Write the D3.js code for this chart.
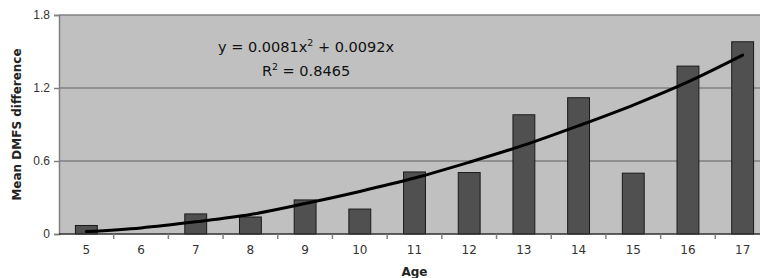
<!DOCTYPE html>
<html>
<head>
<meta charset="utf-8">
<script src="https://cdn.jsdelivr.net/npm/d3@7"></script>
<style>
  body { margin: 0; background: #fff; }
  svg { display: block; font-family: "DejaVu Sans", Verdana, sans-serif; }
</style>
</head>
<body>
<svg id="chart" width="760" height="278"></svg>
<script>
// chart data
const ages = ['5', '6', '7', '8', '9', '10', '11', '12', '13', '14', '15', '16', '17'];
const meanDiff = [0.07, 0, 0.165, 0.14, 0.28, 0.205, 0.51, 0.505, 0.98, 1.12, 0.5, 1.38, 1.58];
const trendValues = [0.02, 0.05, 0.10, 0.16, 0.25, 0.35, 0.46, 0.59, 0.73, 0.89, 1.06, 1.25, 1.47];
const yTicks = [0, 0.6, 1.2, 1.8];
const yTickLabels = ['0', '0.6', '1.2', '1.8'];

const dim = { left: 59, right: 770, top: 15, bottom: 234 };

const svg = d3.select('#chart');

const x = d3.scaleBand()
  .domain(ages)
  .range([dim.left, dim.right])
  .paddingInner(0.6)
  .paddingOuter(0.3);

const y = d3.scaleLinear()
  .domain([0, 1.8])
  .range([dim.bottom, dim.top]);

/// plot background
svg.append('rect')
  .attr('x', dim.left)
  .attr('y', dim.top)
  .attr('width', dim.right - dim.left)
  .attr('height', dim.bottom - dim.top)
  .attr('fill', '#c0c0c0');

/// gridlines
svg.append('g')
  .selectAll('line')
  .data(yTicks.filter((d) => d > 0))
  .enter().append('line')
  .attr('x1', dim.left)
  .attr('x2', dim.right)
  .attr('y1', (d) => y(d))
  .attr('y2', (d) => y(d))
  .attr('stroke', '#808080')
  .attr('stroke-width', 1.5);

/// y axis
const yAxis = svg.append('g')
  .attr('transform', `translate(${dim.left},0)`)
  .call(d3.axisLeft(y).tickValues(yTicks).tickFormat((_, i) => yTickLabels[i]).tickSize(5).tickPadding(4));
yAxis.select('.domain').attr('stroke', '#808080').attr('stroke-width', 1.5);
yAxis.selectAll('.tick line').attr('stroke', '#808080').attr('stroke-width', 1.5);
yAxis.selectAll('text').attr('font-size', 12).attr('fill', '#333');

/// bars
svg.append('g')
  .selectAll('rect')
  .data(meanDiff)
  .enter().append('rect')
  .attr('x', (_, i) => x(ages[i]))
  .attr('y', (d) => y(d))
  .attr('width', x.bandwidth())
  .attr('height', (d) => y(0) - y(d))
  .attr('fill', '#505050')
  .attr('stroke', '#1a1a1a')
  .attr('stroke-width', (d) => (d > 0 ? 1 : 0));

/// x axis: ticks on band boundaries
const xAxis = svg.append('g');
xAxis.append('line')
  .attr('x1', dim.left)
  .attr('x2', dim.right)
  .attr('y1', dim.bottom)
  .attr('y2', dim.bottom)
  .attr('stroke', '#303030')
  .attr('stroke-width', 1.5);
xAxis.selectAll('line.tick')
  .data(d3.range(1, ages.length))
  .enter().append('line')
  .attr('class', 'tick')
  .attr('x1', (i) => x(ages[i]) - x.step() * x.paddingInner() / 2)
  .attr('x2', (i) => x(ages[i]) - x.step() * x.paddingInner() / 2)
  .attr('y1', dim.bottom)
  .attr('y2', dim.bottom + 5)
  .attr('stroke', '#808080')
  .attr('stroke-width', 1.5);
xAxis.selectAll('text')
  .data(ages)
  .enter().append('text')
  .attr('x', (d) => x(d) + x.bandwidth() / 2)
  .attr('y', dim.bottom + 20)
  .attr('text-anchor', 'middle')
  .attr('font-size', 12)
  .attr('fill', '#333')
  .text((d) => d);

/// trendline
const line = d3.line()
  .x((_, i) => x(ages[i]) + x.bandwidth() / 2)
  .y((d) => y(d))
  .curve(d3.curveCatmullRom);
svg.append('path')
  .datum(trendValues)
  .attr('d', line)
  .attr('fill', 'none')
  .attr('stroke', '#000')
  .attr('stroke-width', 3)
  .attr('stroke-linecap', 'round');

/// equation text
const eq = svg.append('text')
  .attr('x', 306)
  .attr('y', 52)
  .attr('text-anchor', 'middle')
  .attr('font-size', 14.5)
  .attr('fill', '#111');
eq.append('tspan').text('y = 0.0081x');
eq.append('tspan').attr('font-size', 9.5).attr('dy', -6).text('2');
eq.append('tspan').attr('dy', 6).text(' + 0.0092x');

const r2 = svg.append('text')
  .attr('x', 306)
  .attr('y', 76)
  .attr('text-anchor', 'middle')
  .attr('font-size', 14.5)
  .attr('fill', '#111');
r2.append('tspan').text('R');
r2.append('tspan').attr('font-size', 9.5).attr('dy', -6).text('2');
r2.append('tspan').attr('dy', 6).text(' = 0.8465');

/// axis titles
svg.append('text')
  .attr('transform', `translate(21,${(dim.top + dim.bottom) / 2}) rotate(-90)`)
  .attr('text-anchor', 'middle')
  .attr('font-size', 12)
  .attr('font-weight', 'bold')
  .attr('fill', '#222')
  .text('Mean DMFS difference');

svg.append('text')
  .attr('x', (dim.left + dim.right) / 2)
  .attr('y', 276)
  .attr('text-anchor', 'middle')
  .attr('font-size', 12)
  .attr('font-weight', 'bold')
  .attr('fill', '#222')
  .text('Age');
</script>
</body>
</html>
